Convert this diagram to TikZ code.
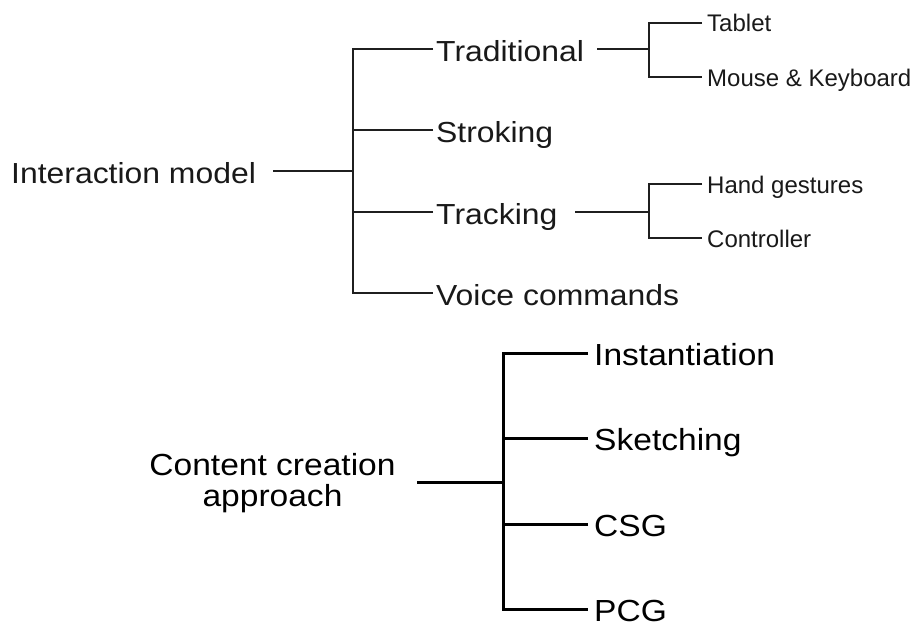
\documentclass[tikz,border=0pt]{standalone}
\usepackage{fontspec}
\usepackage{graphicx}
\setmainfont{Liberation Sans}
\newcommand{\wtxt}[1]{\scalebox{1.1}[1]{#1}}
\begin{document}
\begin{tikzpicture}[x=1pt,y=-1pt,
  bigtop/.style={font=\fontsize{29}{31}\selectfont, inner sep=0, anchor=base west, text=black!90},
  bigbot/.style={font=\fontsize{30.5}{31}\selectfont, inner sep=0, anchor=base west, text=black},
  rootbot/.style={font=\fontsize{30.5}{31}\selectfont, inner sep=0, anchor=base, text=black},
  small/.style={font=\fontsize{24}{26}\selectfont, inner sep=0, anchor=base west, text=black!90},
  tl/.style={line width=2pt, draw=black!88},
  bl/.style={line width=3pt, draw=black}]
\useasboundingbox (0,0) rectangle (917,626);

% ---------- Interaction model tree ----------
\node[bigtop] (im) at (11,183) {\wtxt{Interaction model}};
\node[bigtop] (trad) at (436,61) {\wtxt{Traditional}};
\node[bigtop] (strk) at (436,142) {\wtxt{Stroking}};
\node[bigtop] (trck) at (436,224) {\wtxt{Tracking}};
\node[bigtop] (voice) at (436,305) {\wtxt{Voice commands}};
\node[small] (tab) at (707,32) {Tablet};
\node[small] (mk) at (707,86) {Mouse \& Keyboard};
\node[small] (hg) at (707,193) {Hand gestures};
\node[small] (ctl) at (707,247) {Controller};

\coordinate (a0) at (273,171);
\coordinate (a1) at (353,171);
\coordinate (b1) at (433,49);
\coordinate (b2) at (433,130);
\coordinate (b3) at (433,212);
\coordinate (b4) at (433,293);
\draw[tl] (a0) -- (a1);
\draw[tl] (b1) -- (b1 -| a1) -- (b4 -| a1) -- (b4);
\draw[tl] (b2) -- (b2 -| a1);
\draw[tl] (b3) -- (b3 -| a1);

% Traditional sub-branches
\coordinate (c0) at (597,49);
\coordinate (c1) at (649,49);
\coordinate (c2) at (702,23);
\coordinate (c3) at (702,77);
\draw[tl] (c0) -- (c1);
\draw[tl] (c2) -- (c2 -| c1) -- (c3 -| c1) -- (c3);

% Tracking sub-branches
\coordinate (d0) at (575,211.5);
\coordinate (d1) at (649,211.5);
\coordinate (d2) at (702,184);
\coordinate (d3) at (702,238);
\draw[tl] (d0) -- (d1);
\draw[tl] (d2) -- (d2 -| d1) -- (d3 -| d1) -- (d3);

% ---------- Content creation approach tree ----------
\node[rootbot] (cc1) at (272.5,475) {\wtxt{Content creation}};
\node[rootbot] (cc2) at (272.5,506) {\wtxt{approach}};
\node[bigbot] (inst) at (594,365) {\wtxt{Instantiation}};
\node[bigbot] (sketch) at (594,450) {\wtxt{Sketching}};
\node[bigbot] (csg) at (594,536) {\wtxt{CSG}};
\node[bigbot] (pcg) at (594,621) {\wtxt{PCG}};

\coordinate (e0) at (417,482);
\coordinate (e1) at (503,482);
\coordinate (f1) at (588,353);
\coordinate (f2) at (588,438);
\coordinate (f3) at (588,524);
\coordinate (f4) at (588,609);
\draw[bl] (e0) -- (e1);
\draw[bl] (f1) -- (f1 -| e1) -- (f4 -| e1) -- (f4);
\draw[bl] (f2) -- (f2 -| e1);
\draw[bl] (f3) -- (f3 -| e1);
\end{tikzpicture}
\end{document}
